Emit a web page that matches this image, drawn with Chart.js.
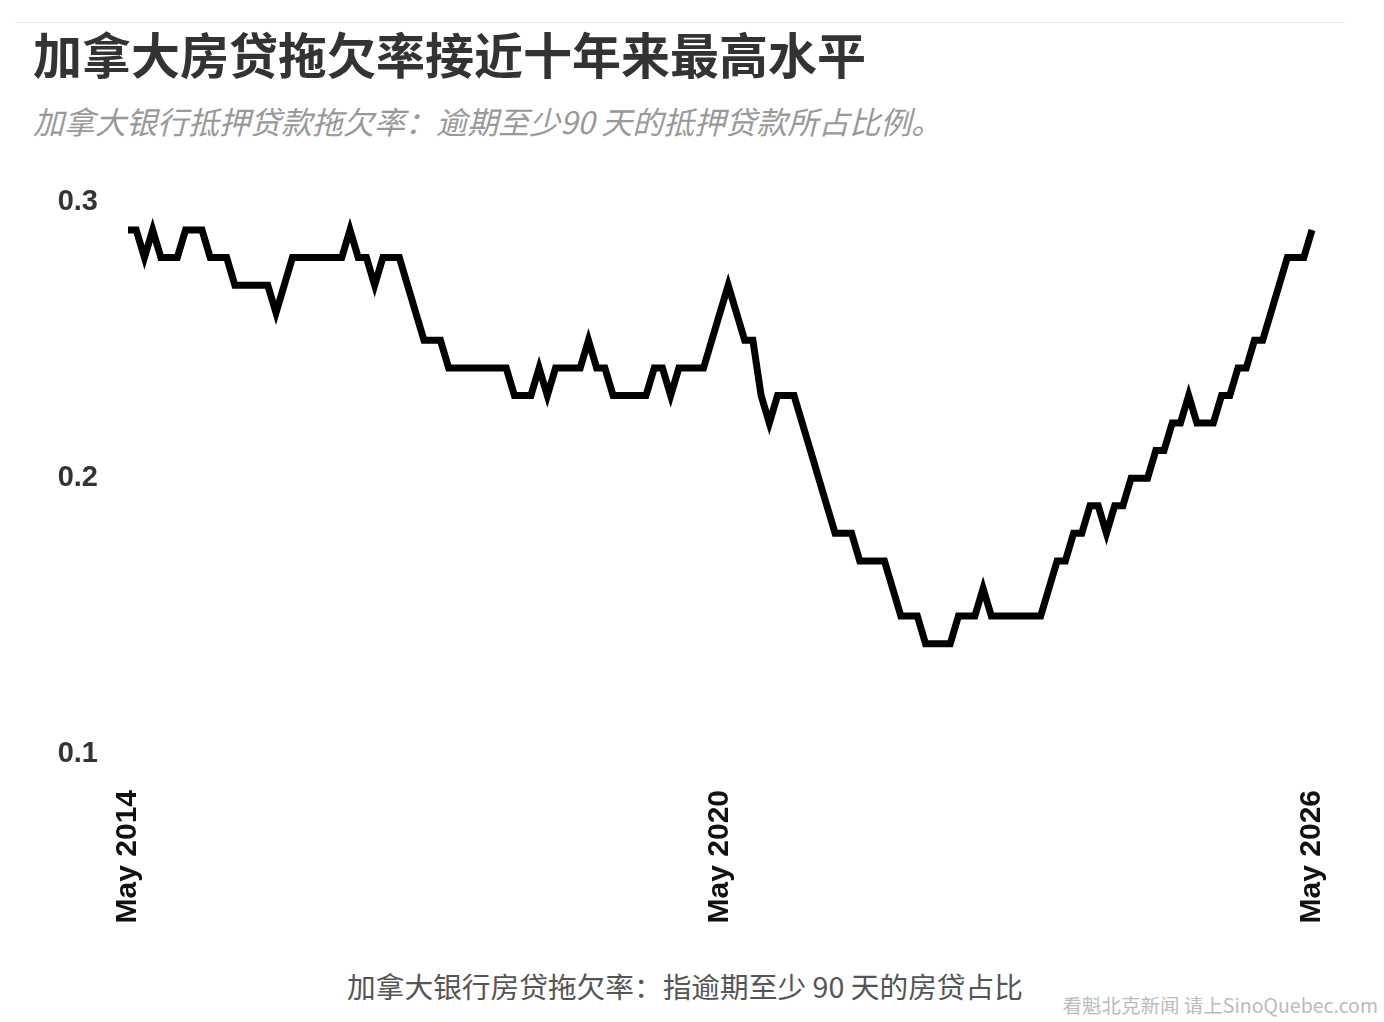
<!DOCTYPE html>
<html>
<head>
<meta charset="utf-8">
<script src="https://cdn.jsdelivr.net/npm/chart.js@4.4.1/dist/chart.umd.min.js"></script>
<style>
  body { margin: 0; width: 1384px; height: 1022px; background: #fff; position: relative; overflow: hidden; font-family: "Noto Sans CJK SC", sans-serif; }
  .rule { position: absolute; left: 15px; top: 22px; width: 1330px; height: 1px; background: #e6e6e6; }
  .title { position: absolute; left: 33px; top: 28px; font-size: 49px; line-height: 1; font-weight: 700; color: #333; white-space: nowrap; }
  .subtitle { position: absolute; left: 33px; top: 105px; font-size: 31px; line-height: 1; font-style: italic; color: #999; white-space: nowrap; }
  .caption { position: absolute; left: 0; width: 1370px; top: 972px; text-align: center; font-size: 28.7px; line-height: 1; color: #555; white-space: nowrap; }
  .mark { position: absolute; right: 6px; top: 995px; font-size: 19.5px; line-height: 1; color: #bbb; white-space: nowrap; }
  #wrap { position: absolute; left: 40px; top: 155px; width: 1344px; height: 779px; }
</style>
</head>
<body>
<div class="rule"></div>
<div class="title">加拿大房贷拖欠率接近十年来最高水平</div>
<div class="subtitle">加拿大银行抵押贷款拖欠率：逾期至少90 天的抵押贷款所占比例。</div>
<div id="wrap"><canvas id="chart"></canvas></div>
<div class="caption">加拿大银行房贷拖欠率：指逾期至少 90 天的房贷占比</div>
<div class="mark">看魁北克新闻 请上SinoQuebec.com</div>
<script>
// 月度数据，从 2014 年 5 月开始
const startYear = 2014;
const startMonth = 4; // May
const monthNames = ["Jan", "Feb", "Mar", "Apr", "May", "Jun", "Jul", "Aug", "Sep", "Oct", "Nov", "Dec"];

const arrears = [
  0.29, 0.29, 0.28, 0.29, 0.28, 0.28, 0.28, 0.29, 0.29, 0.29,
  0.28, 0.28, 0.28, 0.27, 0.27, 0.27, 0.27, 0.27, 0.26, 0.27,
  0.28, 0.28, 0.28, 0.28, 0.28, 0.28, 0.28, 0.29, 0.28, 0.28,
  0.27, 0.28, 0.28, 0.28, 0.27, 0.26, 0.25, 0.25, 0.25, 0.24,
  0.24, 0.24, 0.24, 0.24, 0.24, 0.24, 0.24, 0.23, 0.23, 0.23,
  0.24, 0.23, 0.24, 0.24, 0.24, 0.24, 0.25, 0.24, 0.24, 0.23,
  0.23, 0.23, 0.23, 0.23, 0.24, 0.24, 0.23, 0.24, 0.24, 0.24,
  0.24, 0.25, 0.26, 0.27, 0.26, 0.25, 0.25, 0.23, 0.22, 0.23,
  0.23, 0.23, 0.22, 0.21, 0.20, 0.19, 0.18, 0.18, 0.18, 0.17,
  0.17, 0.17, 0.17, 0.16, 0.15, 0.15, 0.15, 0.14, 0.14, 0.14,
  0.14, 0.15, 0.15, 0.15, 0.16, 0.15, 0.15, 0.15, 0.15, 0.15,
  0.15, 0.15, 0.16, 0.17, 0.17, 0.18, 0.18, 0.19, 0.19, 0.18,
  0.19, 0.19, 0.20, 0.20, 0.20, 0.21, 0.21, 0.22, 0.22, 0.23,
  0.22, 0.22, 0.22, 0.23, 0.23, 0.24, 0.24, 0.25, 0.25, 0.26,
  0.27, 0.28, 0.28, 0.28, 0.29
];

const xTickLabels = ["May 2014", "May 2020", "May 2026"];
const yTicks = [0.1, 0.2, 0.3];

const months = arrears.map((v, i) => {
  const m = startMonth + i;
  return monthNames[m % 12] + " " + (startYear + Math.floor(m / 12));
});

new Chart(document.getElementById("chart"), {
  type: "line",
  data: {
    labels: months,
    datasets: [{
      data: arrears,
      borderColor: "#000",
      borderWidth: 7,
      borderJoinStyle: "miter",
      borderCapStyle: "butt",
      pointRadius: 0,
      tension: 0,
      fill: false
    }]
  },
  options: {
    responsive: true,
    maintainAspectRatio: false,
    animation: false,
    layout: { padding: { top: 20, right: 48, bottom: 0, left: 0 } },
    plugins: { legend: { display: false }, tooltip: { enabled: false } },
    scales: {
      x: {
        offset: false,
        grid: { display: false, drawTicks: false },
        border: { display: false },
        afterFit: s => { s.height = 180; },
        ticks: {
          autoSkip: false,
          minRotation: 90,
          maxRotation: 90,
          padding: 36,
          color: "#111",
          font: { family: "'Liberation Sans', Arial, sans-serif", size: 30, weight: "bold" },
          callback: function (val) {
            const lab = this.getLabelForValue(val);
            return xTickLabels.includes(lab) ? lab : "";
          }
        }
      },
      y: {
        min: 0.1,
        max: 0.3,
        grid: { display: false, drawTicks: false },
        border: { display: false },
        afterFit: s => { s.width = 88; },
        afterBuildTicks: s => { s.ticks = yTicks.map(v => ({ value: v })); },
        ticks: {
          padding: 30,
          color: "#333",
          font: { family: "'Liberation Sans', Arial, sans-serif", size: 29, weight: "bold" },
          callback: v => v.toFixed(1)
        }
      }
    }
  }
});
</script>
</body>
</html>
